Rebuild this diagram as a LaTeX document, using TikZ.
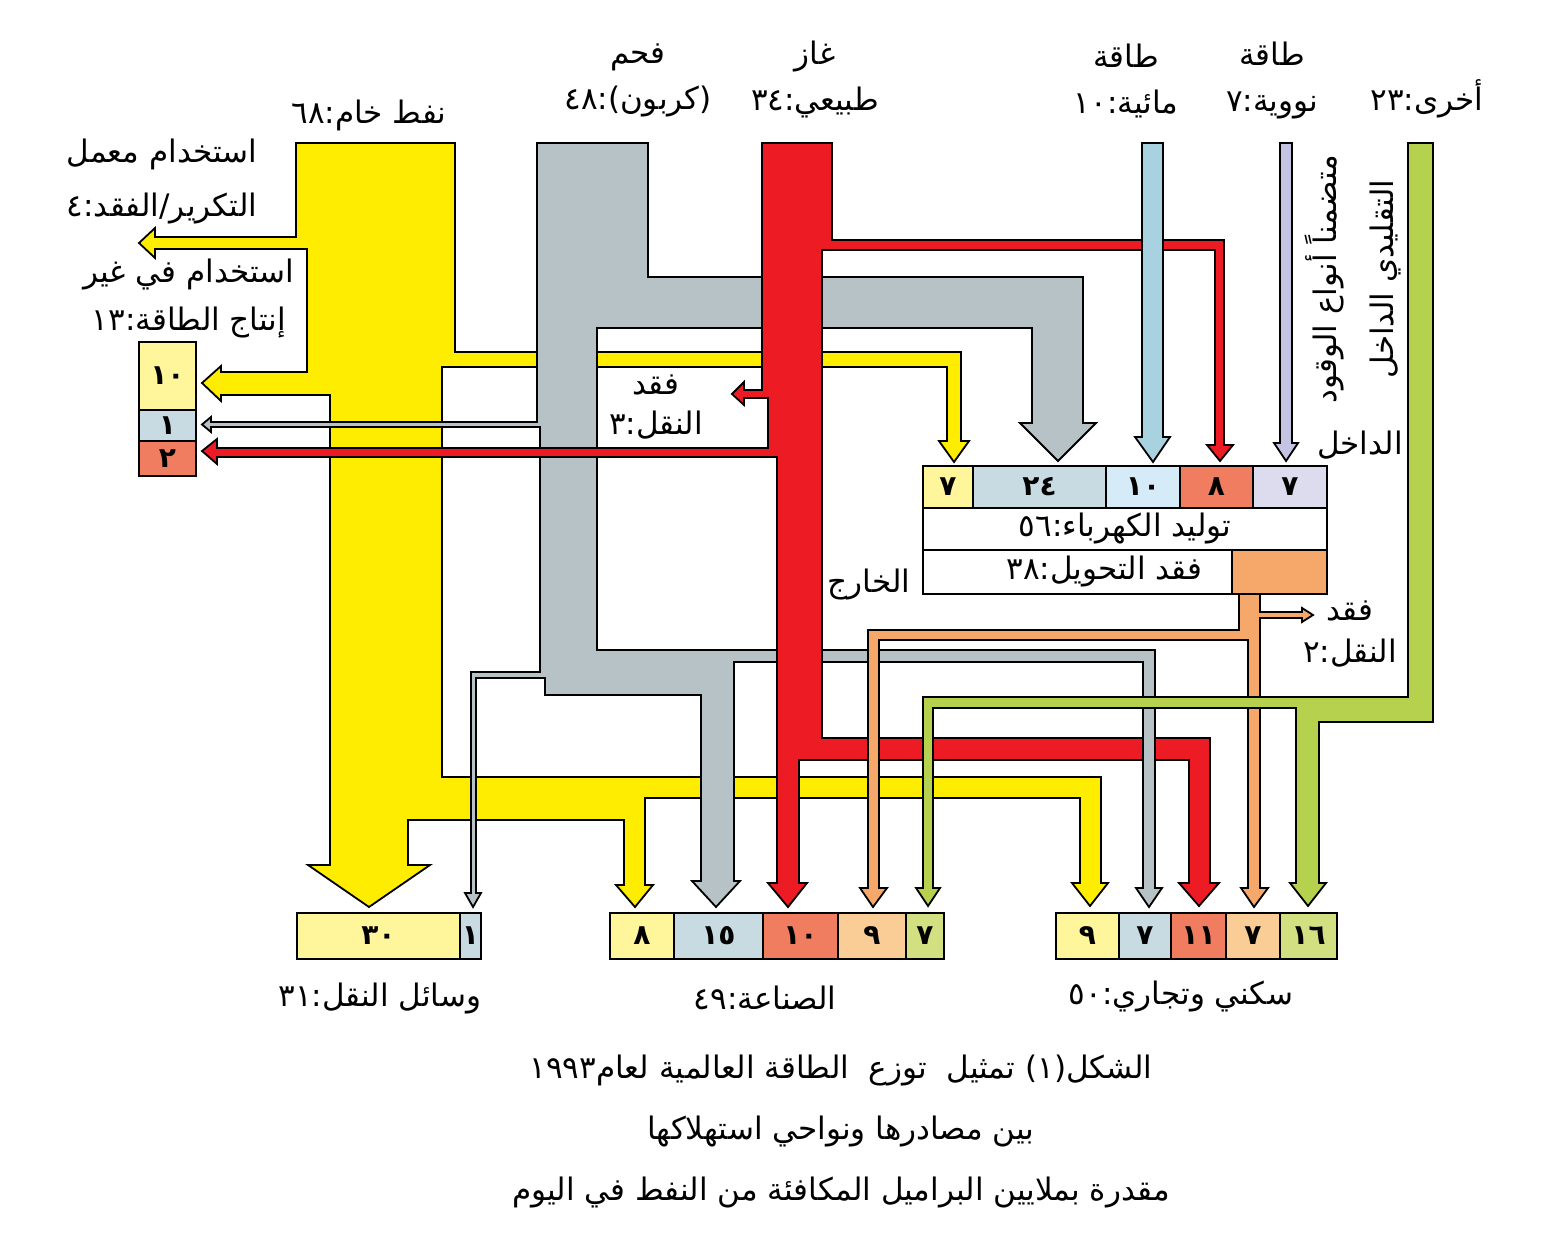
\documentclass[tikz,border=0pt]{standalone}
\usepackage{fontspec}
\newfontfamily\arabicfont[Script=Arabic]{DejaVu Sans}
\TeXXeTstate=1
\definecolor{oilC}{RGB}{255,237,0}
\definecolor{oilL}{RGB}{255,245,155}
\definecolor{coalC}{RGB}{183,194,198}
\definecolor{coalL}{RGB}{200,219,227}
\definecolor{gasC}{RGB}{237,28,36}
\definecolor{gasL}{RGB}{240,125,96}
\definecolor{hydroC}{RGB}{168,210,224}
\definecolor{hydroL}{RGB}{213,236,248}
\definecolor{nucC}{RGB}{197,195,228}
\definecolor{nucL}{RGB}{221,219,238}
\definecolor{othC}{RGB}{181,209,78}
\definecolor{othL}{RGB}{210,224,130}
\definecolor{elecC}{RGB}{245,168,106}
\definecolor{elecL}{RGB}{251,205,150}
\newcommand{\artxt}[1]{\beginR #1\endR}
\tikzset{
  flow/.style={draw=black, line width=1.8pt, line join=miter},
  cell/.style={draw=black, line width=1.7pt, inner sep=0pt, font=\arabicfont\bfseries\fontsize{28}{30}\selectfont},
  lbl/.style={font=\arabicfont\fontsize{31}{46}\selectfont, align=center, inner sep=0pt}
}
\begin{document}
\begin{tikzpicture}[x=1pt, y=-1pt]
\useasboundingbox[fill=white] (0,0) rectangle (1542,1260);
\draw[flow, fill=oilC] (296,143) -- (455,143) -- (455,352) -- (961,352) -- (961,441) -- (969,441) -- (954,462) -- (939,441) -- (947,441) -- (947,367) -- (442,367) -- (442,777) -- (1101,777) -- (1101,883) -- (1108,883) -- (1090,906) -- (1072,883) -- (1080,883) -- (1080,798) -- (645,798) -- (645,885) -- (653,885) -- (635,907) -- (616,885) -- (624,885) -- (624,820) -- (408,820) -- (408,865) -- (430,865) -- (369,907) -- (308,865) -- (330,865) -- (330,395) -- (221,395) -- (221,401) -- (202,383) -- (221,366) -- (221,372) -- (307,372) -- (307,249) -- (155,249) -- (155,258) -- (139,243) -- (155,228) -- (155,237) -- (296,237) -- cycle;
\draw[flow, fill=coalC] (537,143) -- (648,143) -- (648,277) -- (1083,277) -- (1083,423) -- (1096,423) -- (1058,461) -- (1020,423) -- (1032,423) -- (1032,328) -- (597,328) -- (597,650) -- (1155,650) -- (1155,888) -- (1162,888) -- (1149,907) -- (1136,888) -- (1143,888) -- (1143,662) -- (734,662) -- (734,881) -- (740,881) -- (716,907) -- (692,881) -- (701,881) -- (701,695) -- (545,695) -- (545,678) -- (476,678) -- (476,893) -- (481,893) -- (473,907) -- (465,893) -- (471,893) -- (471,672) -- (540,672) -- (540,427) -- (211,427) -- (211,432) -- (202,424.5) -- (211,417) -- (211,422) -- (537,422) -- cycle;
\draw[flow, fill=gasC] (762,143) -- (832,143) -- (832,240) -- (1224,240) -- (1224,445) -- (1233,445) -- (1220,461) -- (1207,445) -- (1215,445) -- (1215,250) -- (822,250) -- (822,738) -- (1210,738) -- (1210,883) -- (1219,883) -- (1199,906) -- (1179,883) -- (1189,883) -- (1189,760) -- (799,760) -- (799,883) -- (807,883) -- (788,907) -- (768,883) -- (777,883) -- (777,457) -- (217,457) -- (217,464) -- (202,451) -- (217,439) -- (217,448) -- (768,448) -- (768,398) -- (744,398) -- (744,405) -- (732,394) -- (744,382) -- (744,390) -- (762,390) -- cycle;
\fill[coalC] (1143,736) rectangle (1155,762);
\draw[line width=1.8pt] (1143,736) -- (1143,762) (1155,736) -- (1155,762);
\draw[flow, fill=hydroC] (1142,143) -- (1163,143) -- (1163,437) -- (1170,437) -- (1153,462) -- (1135,437) -- (1142,437) -- cycle;
\draw[flow, fill=nucC] (1280,143) -- (1292,143) -- (1292,443) -- (1298,443) -- (1286,461) -- (1274,443) -- (1280,443) -- cycle;
\draw[flow, fill=elecC] (1239,593) -- (1260,593) -- (1260,612) -- (1302,612) -- (1302,608) -- (1313,615) -- (1302,622) -- (1302,618) -- (1260,618) -- (1260,888) -- (1268,888) -- (1254,907) -- (1241,888) -- (1248,888) -- (1248,640) -- (879,640) -- (879,888) -- (887,888) -- (873,907) -- (860,888) -- (868,888) -- (868,630) -- (1239,630) -- cycle;
\draw[flow, fill=othC] (1408,143) -- (1433,143) -- (1433,722) -- (1319,722) -- (1319,883) -- (1326,883) -- (1308,906) -- (1290,883) -- (1296,883) -- (1296,708) -- (933,708) -- (933,888) -- (940,888) -- (928,906) -- (916,888) -- (923,888) -- (923,697) -- (1408,697) -- cycle;
\node[cell, fill=oilL, minimum width=57pt, minimum height=68pt] (ne10) at (167.5,376) {١٠};
\node[cell, fill=coalL, minimum width=57pt, minimum height=31pt] (ne1) at (167.5,425.5) {١};
\node[cell, fill=gasL, minimum width=57pt, minimum height=35pt] (ne2) at (167.5,458.5) {٢};
\node[cell, fill=oilL, minimum width=50pt, minimum height=42pt] (el7a) at (948,487) {٧};
\node[cell, fill=coalL, minimum width=133pt, minimum height=42pt] (el24) at (1039.5,487) {٢٤};
\node[cell, fill=hydroL, minimum width=74pt, minimum height=42pt] (el10) at (1143,487) {١٠};
\node[cell, fill=gasL, minimum width=73pt, minimum height=42pt] (el8) at (1216.5,487) {٨};
\node[cell, fill=nucL, minimum width=74pt, minimum height=42pt] (el7b) at (1290,487) {٧};
\node[cell, lbl, fill=white, minimum width=404pt, minimum height=42pt] (elgen) at (1125,529) {\artxt{توليد الكهرباء:٥٦}};
\node[cell, lbl, fill=white, minimum width=309pt, minimum height=44pt] (elloss) at (1077.5,572) {\hspace*{54pt}\artxt{فقد التحويل:٣٨}};
\draw[cell, fill=elecC] (1232,550) rectangle (1327,594);
\node[cell, fill=oilL, minimum width=163pt, minimum height=46pt] (tr30) at (378.5,936) {٣٠};
\node[cell, fill=coalL, minimum width=21pt, minimum height=46pt] (tr1) at (470.5,936) {١};
\node[cell, fill=oilL, minimum width=64pt, minimum height=46pt] (in8) at (642,936) {٨};
\node[cell, fill=coalL, minimum width=89pt, minimum height=46pt] (in15) at (718.5,936) {١٥};
\node[cell, fill=gasL, minimum width=75pt, minimum height=46pt] (in10) at (800.5,936) {١٠};
\node[cell, fill=elecL, minimum width=68pt, minimum height=46pt] (in9) at (872,936) {٩};
\node[cell, fill=othL, minimum width=38pt, minimum height=46pt] (in7) at (925,936) {٧};
\node[cell, fill=oilL, minimum width=63pt, minimum height=46pt] (re9) at (1087.5,936) {٩};
\node[cell, fill=coalL, minimum width=52pt, minimum height=46pt] (re7a) at (1145,936) {٧};
\node[cell, fill=gasL, minimum width=55pt, minimum height=46pt] (re11) at (1198.5,936) {١١};
\node[cell, fill=elecL, minimum width=54pt, minimum height=46pt] (re7b) at (1253,936) {٧};
\node[cell, fill=othL, minimum width=57pt, minimum height=46pt] (re16) at (1308.5,936) {١٦};
\node[lbl] (oilT) at (369,115) {\artxt{نفط خام:٦٨}};
\node[lbl] (coalT) at (638,80) {\artxt{فحم}\\\artxt{(كربون):٤٨}};
\node[lbl] (gasT) at (815,80) {\artxt{غاز}\\\artxt{طبيعي:٣٤}};
\node[lbl] (hydroT) at (1126,81) {\artxt{طاقة}\\\artxt{مائية:١٠}};
\node[lbl] (nucT) at (1272,81) {\artxt{طاقة}\\\artxt{نووية:٧}};
\node[lbl] (othT) at (1427,99) {\artxt{أخرى:٢٣}};
\node[lbl, font=\arabicfont\fontsize{31}{54}\selectfont] (refT) at (162,182) {\artxt{استخدام معمل}\\\artxt{التكرير/الفقد:٤}};
\node[lbl, font=\arabicfont\fontsize{31}{48}\selectfont] (nonT) at (189,299) {\artxt{استخدام في غير}\\\artxt{إنتاج الطاقة:١٣}};
\node[lbl, font=\arabicfont\fontsize{31}{40}\selectfont] (loss3T) at (656,407) {\artxt{فقد}\\\artxt{النقل:٣}};
\node[lbl, font=\arabicfont\fontsize{31}{42}\selectfont] (loss2T) at (1350,634) {\artxt{فقد}\\\artxt{النقل:٢}};
\node[lbl] (outT) at (869,585) {\artxt{الخارج}};
\node[lbl, rotate=90, font=\arabicfont\fontsize{31}{57}\selectfont] (fuelT) at (1353,279) {\artxt{متضمناً أنواع الوقود}\\\artxt{التقليدي الداخل}};
\node[lbl] (inT) at (1360,445) {\artxt{الداخل}};
\node[lbl] (trT) at (380,998) {\artxt{وسائل النقل:٣١}};
\node[lbl] (inDT) at (765,998) {\artxt{الصناعة:٤٩}};
\node[lbl] (reT) at (1181,996) {\artxt{سكني وتجاري:٥٠}};
\node[lbl, font=\arabicfont\fontsize{31}{61}\selectfont] (capT) at (841,1131) {\artxt{الشكل(١) تمثيل\ \ توزع\ \ الطاقة العالمية لعام١٩٩٣}\\\artxt{بين مصادرها ونواحي استهلاكها}\\\artxt{مقدرة بملايين البراميل المكافئة من النفط في اليوم}};
\end{tikzpicture}
\end{document}
